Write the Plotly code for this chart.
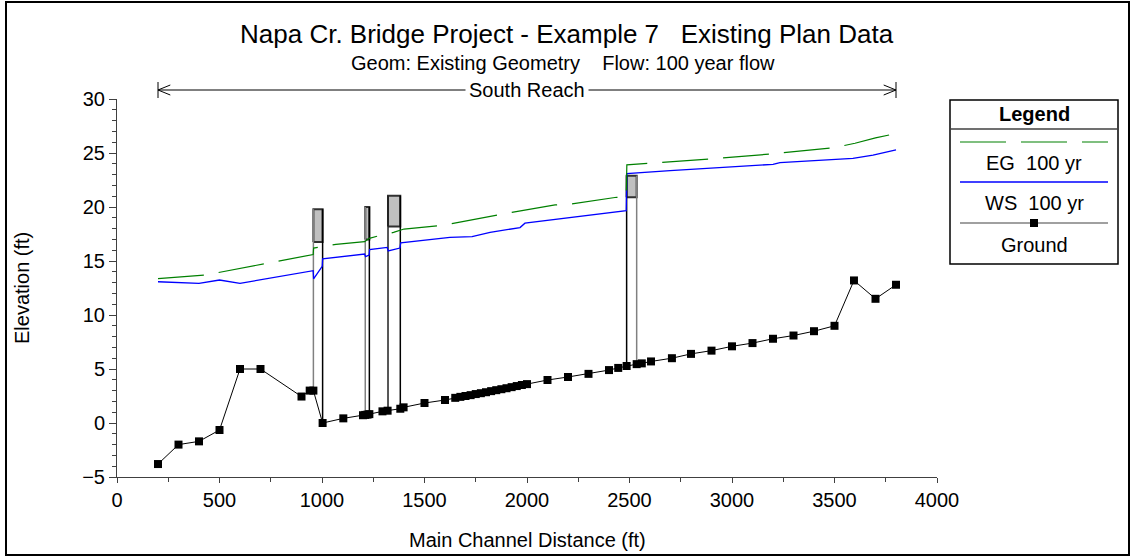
import numpy as np
import plotly.graph_objects as go

# ground profile (main channel distance ft, elevation ft)
ground_sta = [200, 300, 400, 500, 600, 700, 900, 940, 958, 1003, 1104, 1200, 1211, 1222, 1231,
              1295, 1320, 1382, 1398, 1500, 1600, 1650, 1675, 1700, 1725, 1750, 1775, 1800,
              1825, 1850, 1875, 1900, 1925, 1950, 1975, 2000, 2100, 2200, 2300, 2400, 2445,
              2486, 2535, 2560, 2605, 2707, 2800, 2900, 3000, 3100, 3200, 3300, 3400, 3500,
              3595, 3700, 3800]
ground_elev = [-3.8, -2.0, -1.7, -0.65, 5.0, 5.0, 2.45, 3.0, 3.0, 0.0, 0.43, 0.72, 0.75, 0.78, 0.82,
               1.08, 1.14, 1.32, 1.45, 1.85, 2.13, 2.33, 2.42, 2.5, 2.58, 2.68, 2.76, 2.85,
               2.95, 3.04, 3.13, 3.22, 3.32, 3.42, 3.52, 3.6, 3.98, 4.26, 4.55, 4.9, 5.1,
               5.28, 5.45, 5.52, 5.7, 6.0, 6.4, 6.7, 7.1, 7.4, 7.8, 8.1, 8.5, 9.0,
               13.2, 11.5, 12.8]

# water surface 100 yr
ws_sta = [200, 400, 500, 600, 957, 959, 1001, 1003, 1208, 1212, 1230, 1232, 1318, 1323, 1380,
          1384, 1624, 1732, 1820, 1966, 1990, 2484, 2487, 2585, 2698, 3200, 3234, 3590, 3688, 3800]
ws_elev = [13.08, 12.93, 13.24, 12.93, 14.1, 13.35, 14.5, 15.19, 15.65, 15.4, 15.55, 16.05, 16.26,
           15.93, 16.2, 16.67, 17.19, 17.25, 17.65, 18.1, 18.5, 19.66, 23.1, 23.2, 23.36, 23.95,
           24.1, 24.5, 24.8, 25.3]

# energy grade 100 yr
eg_sta = [200, 430, 957, 959, 1003, 1068, 1208, 1231, 1280, 1349, 1400, 1575, 1640, 1844, 1926,
          2137, 2218, 2437, 2484, 2487, 2551, 2584, 2885, 3185, 3437, 3500, 3600, 3700, 3800]
eg_elev = [13.36, 13.7, 15.6, 16.2, 16.35, 16.54, 16.79, 17.1, 17.35, 17.65, 17.96, 18.27, 18.49,
           19.26, 19.5, 20.19, 20.28, 20.9, 20.95, 23.9, 23.98, 24.07, 24.44, 24.9, 25.37, 25.5,
           25.9, 26.4, 26.8]

# bridges
br_left = [958, 1211, 1322, 2486]
br_right = [1003, 1231, 1382, 2535]
br_high = [19.8, 20.0, 21.05, 22.9]
br_low = [16.75, 17.0, 18.2, 20.9]

W, H = 1131, 557
L, R, T, B = 117, 937, 99, 477  # plot area in px


def px(x):
    return (x - L) / (R - L)


def py(y):
    return (B - y) / (B - T)


FONT = "Liberation Sans, Arial, sans-serif"

fig = go.Figure()

face_cols = [("#808080", "#000000"), ("#808080", "#000000"), ("#202020", "#000000"), ("#000000", "#808080")]
for i in range(len(br_left)):
    x0, x1 = br_left[i], br_right[i]
    g0 = np.interp(x0, ground_sta, ground_elev)
    g1 = np.interp(x1, ground_sta, ground_elev)
    fig.add_trace(go.Scatter(x=[x0, x1, x1, x0, x0], y=[br_low[i], br_low[i], br_high[i], br_high[i], br_low[i]],
                             mode="lines", fill="toself", fillcolor="#c0c0c0",
                             line=dict(color="#303030", width=2), hoverinfo="skip"))
    fig.add_trace(go.Scatter(x=[x0, x0], y=[g0, br_high[i]], mode="lines",
                             line=dict(color=face_cols[i][0], width=1.5), hoverinfo="skip"))
    fig.add_trace(go.Scatter(x=[x1, x1], y=[g1, br_high[i]], mode="lines",
                             line=dict(color=face_cols[i][1], width=1.5), hoverinfo="skip"))

fig.add_trace(go.Scatter(x=ground_sta, y=ground_elev, mode="lines+markers", name="Ground",
                         line=dict(color="black", width=1),
                         marker=dict(symbol="square", size=8, color="black")))
fig.add_trace(go.Scatter(x=ws_sta, y=ws_elev, mode="lines", name="WS  100 yr",
                         line=dict(color="#0000ff", width=1.3)))
fig.add_trace(go.Scatter(x=eg_sta, y=eg_elev, mode="lines", name="EG  100 yr",
                         line=dict(color="#008000", width=1.2, dash="46px,15px")))

shapes = []
# outer frame
shapes.append(dict(type="rect", xref="paper", yref="paper", x0=px(6), x1=px(1129), y0=py(555), y1=py(2),
                   line=dict(color="black", width=2)))
# reach arrow
ry = py(90)
shapes.append(dict(type="line", xref="x", yref="paper", x0=200, x1=3800, y0=ry, y1=ry,
                   line=dict(color="black", width=1)))
for xs, d in ((200, 1), (3800, -1)):
    shapes.append(dict(type="line", xref="x", yref="paper", x0=xs, x1=xs, y0=py(82), y1=py(98),
                       line=dict(color="black", width=1)))
    shapes.append(dict(type="line", xref="x", yref="paper", x0=xs, x1=xs + d * 60, y0=ry, y1=py(85),
                       line=dict(color="black", width=1)))
    shapes.append(dict(type="line", xref="x", yref="paper", x0=xs, x1=xs + d * 60, y0=ry, y1=py(95),
                       line=dict(color="black", width=1)))

# legend box
lx0, lx1 = 950, 1118
shapes.append(dict(type="rect", xref="paper", yref="paper", x0=px(lx0), x1=px(lx1), y0=py(264), y1=py(100),
                   line=dict(color="black", width=1.5), fillcolor="white"))
shapes.append(dict(type="line", xref="paper", yref="paper", x0=px(lx0), x1=px(lx1), y0=py(129), y1=py(129),
                   line=dict(color="#404040", width=1.5)))
shapes.append(dict(type="line", xref="paper", yref="paper", x0=px(960), x1=px(1108), y0=py(142), y1=py(142),
                   line=dict(color="#008000", width=1.2, dash="46px,15px")))
shapes.append(dict(type="line", xref="paper", yref="paper", x0=px(960), x1=px(1108), y0=py(182), y1=py(182),
                   line=dict(color="#0000ff", width=1.3)))
shapes.append(dict(type="line", xref="paper", yref="paper", x0=px(960), x1=px(1108), y0=py(223), y1=py(223),
                   line=dict(color="#808080", width=1.5)))
shapes.append(dict(type="rect", xref="paper", yref="paper", x0=px(1030), x1=px(1038), y0=py(227), y1=py(219),
                   line=dict(color="black", width=0), fillcolor="black"))

annotations = [
    dict(text="Napa Cr. Bridge Project - Example 7   Existing Plan Data", x=px(567), y=py(34),
         font=dict(size=26)),
    dict(text="Geom: Existing Geometry    Flow: 100 year flow", x=px(563), y=py(63), font=dict(size=20)),
    dict(text="South Reach", x=px(527), y=py(90), font=dict(size=20), bgcolor="white", borderpad=3),
    dict(text="Main Channel Distance (ft)", x=px(527), y=py(540), font=dict(size=20)),
    dict(text="Elevation (ft)", x=px(22), y=py(288), font=dict(size=20), textangle=-90),
    dict(text="<b>Legend</b>", x=px(1034), y=py(114), font=dict(size=20)),
    dict(text="EG  100 yr", x=px(1034), y=py(163), font=dict(size=20)),
    dict(text="WS  100 yr", x=px(1034), y=py(203), font=dict(size=20)),
    dict(text="Ground", x=px(1034), y=py(245), font=dict(size=20)),
]
for a in annotations:
    a.update(xref="paper", yref="paper", showarrow=False, xanchor="center", yanchor="middle")
    a["font"].update(family=FONT, color="black")

fig.update_layout(
    width=W, height=H, autosize=False,
    margin=dict(l=L, r=W - R, t=T, b=H - B, pad=0),
    paper_bgcolor="white", plot_bgcolor="white",
    showlegend=False,
    shapes=shapes, annotations=annotations,
    font=dict(family=FONT, size=20, color="black"),
)
fig.update_xaxes(range=[0, 4000], tick0=0, dtick=500, ticks="outside", ticklen=5, tickcolor="#404040",
                 showline=True, linecolor="#404040", linewidth=1, showgrid=False, zeroline=False,
                 minor=dict(dtick=250, ticks="outside", ticklen=4, tickcolor="#404040", showgrid=False),
                 tickfont=dict(size=20))
fig.update_yaxes(range=[-5, 30], tick0=0, dtick=5, ticks="outside", ticklen=7, tickcolor="#404040",
                 showline=True, linecolor="#404040", linewidth=1, showgrid=False, zeroline=False,
                 minor=dict(dtick=1, ticks="outside", ticklen=4, tickcolor="#404040", showgrid=False),
                 tickfont=dict(size=20))

# drop the default page margin so figure pixels line up with the window
fig.write_html("out.html", config={"displayModeBar": False},
               post_script="document.body.style.margin='0px';document.body.style.overflow='hidden';")
